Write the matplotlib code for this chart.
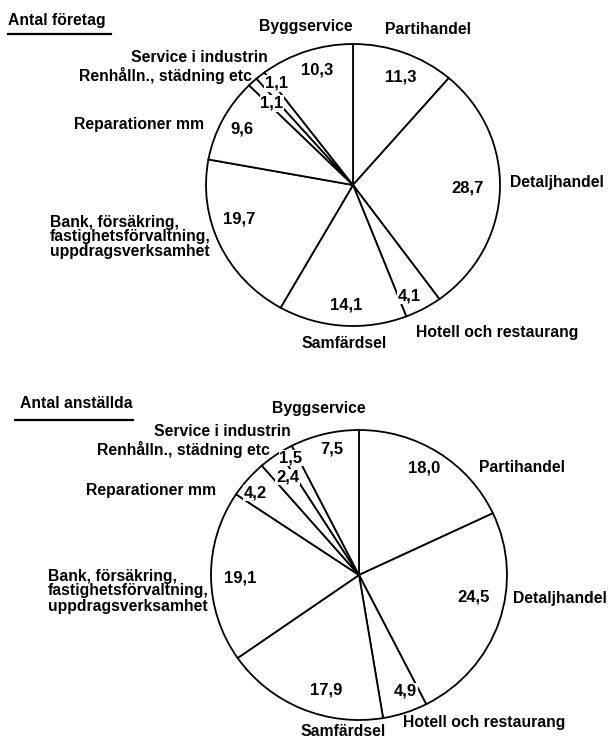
import matplotlib
matplotlib.use("Agg")
import matplotlib.pyplot as plt
import numpy as np
from matplotlib.lines import Line2D

# ---------------- data ----------------
categories = ["Partihandel", "Detaljhandel", "Hotell och restaurang", "Samfärdsel",
              "Bank, försäkring,\nfastighetsförvaltning,\nuppdragsverksamhet",
              "Reparationer mm", "Renhålln., städning etc", "Service i industrin",
              "Byggservice"]
antal_foretag = [11.3, 28.7, 4.1, 14.1, 19.7, 9.6, 1.1, 1.1, 10.3]
antal_anstallda = [18.0, 24.5, 4.9, 17.9, 19.1, 4.2, 2.4, 1.5, 7.5]
titles = ["Antal företag", "Antal anställda"]

# ---------------- layout (pixels, origin top-left) ----------------
W, H = 610, 740
FONT = "Liberation Sans"
FS = 11.3
VFS = 12

def fx(x):
    return x / W

def fy(y):
    return 1 - y / H

panels = [
    dict(values=antal_foretag, title=titles[0],
         center=(353, 185), rx=147, ry=141,
         title_pos=(8, 20), underline=(8, 111, 34),
         rad=[0.83, 0.78, 0.875, 0.85, 0.81, 0.85, 0.80, 0.89, 0.85],
         dang=[2.7, -0.8, 2.9, -1.1, 7.8, 0.0, -0.6, 3.1, 2.0],
         names=[(385, 30, "left"), (510, 182, "left"), (416, 333, "left"),
                (344, 343, "center"), (50, 237, "left"), (74, 124, "left"),
                (252, 76, "right"), (268, 58, "right"), (306, 26, "center")]),
    dict(values=antal_anstallda, title=titles[1],
         center=(359, 575), rx=148, ry=145,
         title_pos=(20, 404), underline=(15, 133, 420),
         rad=[0.86, 0.79, 0.86, 0.82, 0.80, 0.90, 0.83, 0.93, 0.89],
         dang=[-1.4, -7.9, -3.3, -7.4, -1.0, -2.4, 1.2, 0.0, 1.5],
         names=[(479, 467, "left"), (607, 598, "right"), (403, 722, "left"),
                (343, 732, "center"), (48, 591, "left"), (86, 490, "left"),
                (270, 450, "right"), (291, 432, "right"), (319, 409, "center")]),
]

fig = plt.figure(figsize=(W / 100, H / 100), dpi=100)
fig.patch.set_facecolor("white")

for p in panels:
    cx, cy = p["center"]
    rx, ry = p["rx"], p["ry"]
    ax = fig.add_axes([fx(cx - rx), fy(cy + ry), 2 * rx / W, 2 * ry / H])
    wedges, _ = ax.pie(p["values"], startangle=90, counterclock=False,
                       radius=1.0,
                       wedgeprops=dict(facecolor="white", edgecolor="black",
                                       linewidth=1.3))
    for w in wedges:
        w.set_clip_on(False)
    ax.set_xlim(-1, 1)
    ax.set_ylim(-1, 1)
    ax.set_aspect("auto")
    ax.axis("off")

    # value labels
    for w, v, r, da in zip(wedges, p["values"], p["rad"], p["dang"]):
        th = np.deg2rad((w.theta1 + w.theta2) / 2 - da)
        ax.text(r * np.cos(th), r * np.sin(th), f"{v:.1f}".replace(".", ","),
                ha="center", va="center", fontsize=VFS, fontweight="bold",
                family=FONT, zorder=5,
                bbox=dict(facecolor="white", edgecolor="none", pad=0.5))

    # category labels
    for name, (x, y, ha) in zip(categories, p["names"]):
        fig.text(fx(x), fy(y), name, ha=ha, va="center", fontsize=FS,
                 fontweight="bold", family=FONT, linespacing=1.0)

    # title with underline
    tx, ty = p["title_pos"]
    fig.text(fx(tx), fy(ty), p["title"], ha="left", va="center", fontsize=FS,
             fontweight="bold", family=FONT)
    x0, x1, uy = p["underline"]
    fig.add_artist(Line2D([fx(x0), fx(x1)], [fy(uy), fy(uy)],
                          color="black", linewidth=1.6))

fig.savefig("out.png", dpi=100, facecolor="white")
